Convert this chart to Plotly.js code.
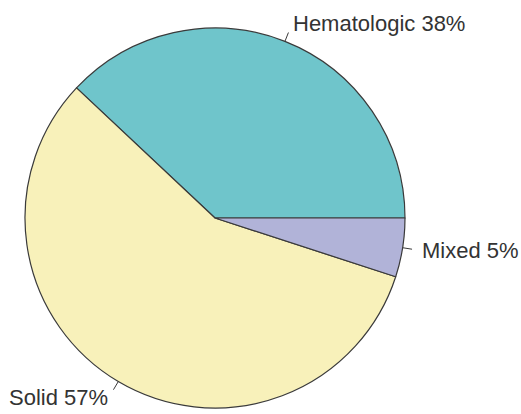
<!DOCTYPE html>
<html>
<head>
<meta charset="utf-8">
<script src="https://cdn.plot.ly/plotly-3.0.1.min.js"></script>
<style>html,body{margin:0;padding:0;background:#fff;}#chart{width:521px;height:414px;}</style>
</head>
<body>
<div id="chart"></div>
<script>
// Data
const categories = ["Hematologic", "Solid", "Mixed"];
const values = [38, 57, 5];
const tickLabels = ["Hematologic 38%", "Solid 57%", "Mixed 5%"];

// Styles
const sliceColors = ["#6fc5cb", "#f8f1ba", "#b1b3d8"];
const outlineColor = "#3a3a3a";
const textColor = "#333333";

// Geometry (pie starts at 3 o'clock, counterclockwise, like R's pie())
const total = values.reduce((a, b) => a + b, 0);
const shapes = [];
const annotations = [];
let cum = 0;
values.forEach((v, i) => {
  const mid = (cum + v / 2) / total * 2 * Math.PI;
  cum += v;
  const c = Math.cos(mid), s = Math.sin(mid);
  const R = 0.5; // paper units radius
  shapes.push({
    type: "line", xref: "paper", yref: "paper",
    x0: 0.5 + R * c, y0: 0.5 + R * s,
    x1: 0.5 + R * 1.05 * c, y1: 0.5 + R * 1.05 * s,
    line: {color: outlineColor, width: 1}
  });
  annotations.push({
    xref: "paper", yref: "paper",
    x: 0.5 + R * 1.1 * c, y: 0.5 + R * 1.1 * s,
    text: tickLabels[i], showarrow: false,
    xanchor: c > 0 ? "left" : "right", yanchor: "middle",
    borderpad: 0,
    font: {family: "Liberation Sans, Arial, Helvetica, sans-serif", size: 22, color: textColor}
  });
});

// Plotly places the first counterclockwise slice so that it ENDS at `rotation`
// (measured clockwise from 12 o'clock); shift so it starts at 3 o'clock.
const rotation = 90 - 360 * values[0] / total;

const trace = {
  type: "pie",
  labels: categories,
  values: values,
  sort: false,
  direction: "counterclockwise",
  rotation: rotation,
  textinfo: "none",
  hoverinfo: "none",
  marker: {colors: sliceColors, line: {color: outlineColor, width: 1.2}}
};

const layout = {
  width: 521, height: 414,
  margin: {l: 25, r: 116, t: 28, b: 6},
  showlegend: false,
  paper_bgcolor: "#ffffff",
  shapes: shapes,
  annotations: annotations
};

Plotly.newPlot("chart", [trace], layout, {displayModeBar: false, staticPlot: true});
</script>
</body>
</html>
